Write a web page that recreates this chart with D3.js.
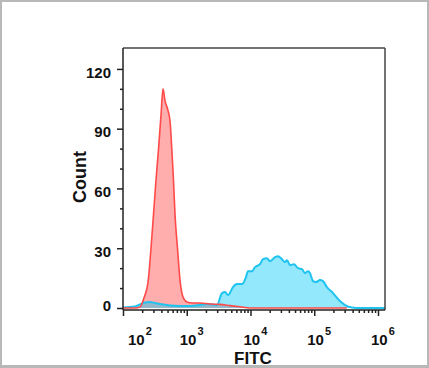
<!DOCTYPE html>
<html>
<head>
<meta charset="utf-8">
<script src="https://cdn.jsdelivr.net/npm/d3@7/dist/d3.min.js"></script>
<style>
  html, body { margin: 0; padding: 0; background: #fff; }
  svg { display: block; }
  text { font-family: "Liberation Sans", Arial, Helvetica, sans-serif; font-weight: bold; fill: #111; }
</style>
</head>
<body>
<svg id="chart" width="429" height="368"></svg>
<script>
// ---- data (FITC intensity bins, event counts) ----
const redFitc  = [100, 154, 185, 213, 247, 275, 301, 329, 361, 395, 424, 456, 499, 546, 587, 620, 654, 716, 784, 874, 1009, 1209, 1614, 2317, 3326, 4770, 6840, 9820, 50000, 324000];
const redCount = [0, 0, 0.5, 5, 13, 30, 47, 64, 80, 97, 110, 104, 100, 94, 78, 64, 47, 30, 14, 5.5, 3, 2.5, 2.5, 2, 1.8, 1.2, 0.6, 0, 0, 0];

const blueFitc  = [100, 154, 185, 221, 265, 318, 381, 546, 784, 1124, 1614, 2080, 2583, 2983, 3575, 3985, 4440, 5315, 6135, 7360, 8500, 9140, 10570, 11780, 14100, 15710, 18150, 20230, 24230, 27000, 31190, 34750, 37400, 41680, 48130, 55600, 64300, 71600, 79800, 85800, 95500, 106500, 123000, 137000, 158000, 197000, 253000, 304000, 391000, 522000, 1290000];
const blueCount = [0.3, 0.8, 1.8, 2.8, 3, 2.5, 2, 1.2, 1, 1, 1.5, 2, 1.8, 1.5, 7.5, 8, 6.5, 10.5, 12, 12, 15.5, 18.5, 18.5, 20.5, 22, 24.5, 25, 23.5, 25.5, 26, 24.5, 23, 24, 21.5, 22, 20, 19.5, 17.5, 18.5, 17.5, 13.5, 13, 14, 13.5, 10.5, 7.5, 3.5, 1.5, 0.3, 0, 0];

const yMajorTicks = [0, 30, 60, 90, 120];
const yMinorTicks = [10, 20, 40, 50, 70, 80, 100, 110];
const xMajorTicks = [1e2, 1e3, 1e4, 1e5, 1e6];
const xMinorTicks = [];
[1e2, 1e3, 1e4, 1e5].forEach(d => { for (let k = 2; k <= 9; k++) xMinorTicks.push(d * k); });
const xLabel = "FITC";
const yLabel = "Count";

// ---- layout ----
const svg = d3.select("#chart");
const L = 123, R = 385, T = 48, B = 310;

const x = d3.scaleLog().domain([100, Math.pow(10, 6.11)]).range([L, R]);
const y = d3.scaleLinear().domain([-1, 130.5]).range([B, T]);

const red = redFitc.map((f, i) => ({ f, c: redCount[i] }));
const blue = blueFitc.map((f, i) => ({ f, c: blueCount[i] }));

const area = d3.area().x(d => x(d.f)).y0(y(0)).y1(d => y(d.c)).curve(d3.curveMonotoneX);
const line = d3.line().x(d => x(d.f)).y(d => y(d.c)).curve(d3.curveMonotoneX);

svg.append("path").datum(red).attr("d", area).attr("fill", "rgba(255,60,60,0.42)");
svg.append("path").datum(blue).attr("d", area).attr("fill", "rgba(0,200,245,0.42)");
svg.append("path").datum(blue).attr("d", line).attr("fill", "none").attr("stroke", "#1ec3f0").attr("stroke-width", 2);
svg.append("path").datum(red).attr("d", line).attr("fill", "none").attr("stroke", "#ff4a4a").attr("stroke-width", 1.6);

// frame top/right
svg.append("line").attr("x1", L).attr("x2", R).attr("y1", T).attr("y2", T).attr("stroke", "#444").attr("stroke-width", 1.5);
svg.append("line").attr("x1", R).attr("x2", R).attr("y1", T).attr("y2", B).attr("stroke", "#444").attr("stroke-width", 1.5);

// ---- y axis ----
const yMajor = svg.append("g").attr("transform", `translate(${L},0)`)
  .call(d3.axisLeft(y).tickValues(yMajorTicks).tickSize(6).tickPadding(6).tickSizeOuter(0));
svg.append("g").attr("transform", `translate(${L},0)`)
  .call(d3.axisLeft(y).tickValues(yMinorTicks).tickSize(3).tickFormat("").tickSizeOuter(0))
  .select(".domain").remove();
yMajor.select(".domain").attr("d", `M0,${T}V${B}`);
yMajor.selectAll("text").attr("font-size", 15).attr("dy", d => d === 0 ? "0.15em" : "0.55em");

// ---- x axis ----
const xMajor = svg.append("g").attr("transform", `translate(0,${B})`)
  .call(d3.axisBottom(x).tickValues(xMajorTicks).tickSize(6).tickFormat("").tickSizeOuter(0));
svg.append("g").attr("transform", `translate(0,${B})`)
  .call(d3.axisBottom(x).tickValues(xMinorTicks).tickSize(3).tickFormat("").tickSizeOuter(0))
  .select(".domain").remove();
xMajor.select(".domain").attr("d", `M${L},0H${R}`);

svg.selectAll("g .domain, g .tick line").attr("stroke", "#222").attr("stroke-width", 1.5);

// x tick labels 10^n
const xl = svg.append("g");
xMajorTicks.forEach((v, i) => {
  const e = Math.round(Math.log10(v));
  const cx = x(v) + (i === 0 ? 12 : 0);
  const t = xl.append("text").attr("x", cx - 7).attr("y", 345).attr("font-size", 15);
  t.append("tspan").text("10");
  t.append("tspan").attr("font-size", 11).attr("dy", -10).attr("dx", 1).text(e);
});

// axis titles
svg.append("text").attr("x", 253).attr("y", 364).attr("text-anchor", "middle").attr("font-size", 17).text(xLabel);
svg.append("text").attr("transform", "translate(86,177) rotate(-90)").attr("text-anchor", "middle").attr("font-size", 18).text(yLabel);

// outer gray frame
svg.append("rect").attr("x", 0).attr("y", 0).attr("width", 429).attr("height", 2).attr("fill", "#b8b8b8");
svg.append("rect").attr("x", 0).attr("y", 0).attr("width", 2).attr("height", 368).attr("fill", "#b8b8b8");
svg.append("rect").attr("x", 427).attr("y", 0).attr("width", 2).attr("height", 368).attr("fill", "#b8b8b8");
svg.append("rect").attr("x", 0).attr("y", 365).attr("width", 429).attr("height", 3).attr("fill", "#b8b8b8");
</script>
</body>
</html>
